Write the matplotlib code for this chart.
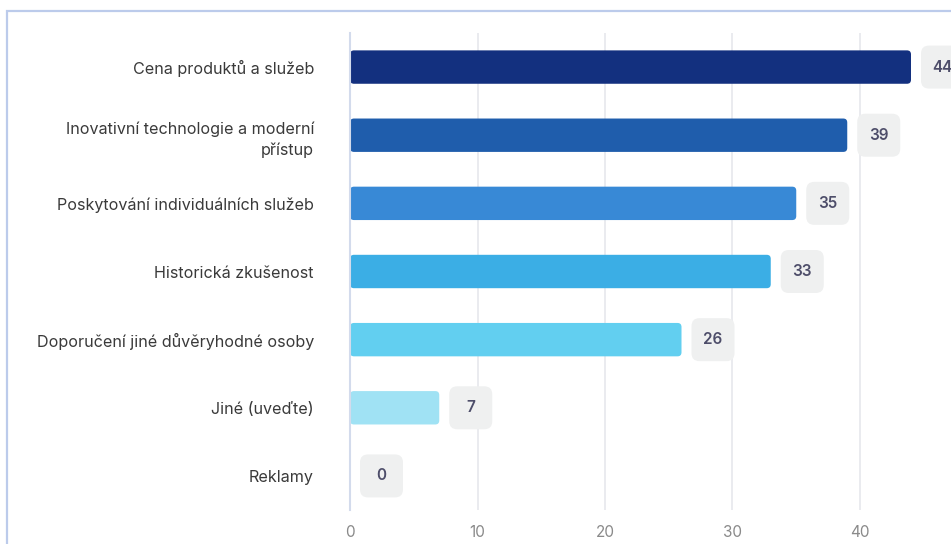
import matplotlib
matplotlib.use("Agg")
import matplotlib.pyplot as plt
from matplotlib.patches import FancyBboxPatch, Rectangle
from matplotlib.offsetbox import DrawingArea, AnnotationBbox
from matplotlib.text import Text

plt.rcParams['font.family'] = ['Inter', 'DejaVu Sans']

categories = [
    "Cena produktů a služeb",
    "Inovativní technologie a moderní\npřístup",
    "Poskytování individuálních služeb",
    "Historická zkušenost",
    "Doporučení jiné důvěryhodné osoby",
    "Jiné (uveďte)",
    "Reklamy",
]
values = [44, 39, 35, 33, 26, 7, 0]
colors = ["#13307f", "#1f5dac", "#3889d6", "#3baee5", "#62cff0", "#a0e2f4", "#c8eef8"]
xticks = [0, 10, 20, 30, 40]

fig = plt.figure(figsize=(9.51, 5.44), dpi=100)
W, H = 951, 544

# outer border
fig.patches.append(Rectangle((7 / W, -0.1), 1.2, (H - 11) / H + 0.1, transform=fig.transFigure,
                             fill=False, ec="#bccbeb", lw=1.6, zorder=0))

ax = fig.add_axes([350 / W, 34 / H, 612 / W, 477 / H])
ax.set_xlim(0, 48)
ax.set_ylim(len(categories) - 0.5, -0.5)

ypos = list(range(len(categories)))
bars = ax.barh(ypos, values, height=0.49, color=colors, zorder=3)

# replace with rounded bars
px_x = 612 / 48
px_y = 477 / 7
r = 4 / px_x
aspect = (4 / px_y) / r
for b in bars:
    w = b.get_width()
    if w <= 0:
        b.set_visible(False)
        continue
    fb = FancyBboxPatch((b.get_x(), b.get_y()), w, b.get_height(),
                        boxstyle=f"round,pad=0,rounding_size={r}",
                        mutation_aspect=aspect, fc=b.get_facecolor(), ec="none", zorder=3)
    ax.add_patch(fb)
    b.set_visible(False)

# value labels in rounded boxes
pt = 72 / 100
bw, bh = 43 * pt, 43 * pt
for i, v in enumerate(values):
    da = DrawingArea(bw, bh, 0, 0)
    da.add_artist(FancyBboxPatch((0, 0), bw, bh, boxstyle=f"round,pad=0,rounding_size={8*pt}",
                                 fc="#eff0f0", ec="none"))
    da.add_artist(Text(bw / 2, bh / 2, str(v), ha="center", va="center",
                       fontsize=11, fontweight="semibold", color="#4e4e6a",
                       family=['Inter', 'DejaVu Sans']))
    ab = AnnotationBbox(da, (v, i), xybox=(10 * pt, 0), xycoords="data",
                        boxcoords="offset points", frameon=False, box_alignment=(0, 0.5),
                        pad=0, annotation_clip=False)
    ab.set_zorder(4)
    ax.add_artist(ab)

ax.set_yticks(ypos)
ax.set_yticklabels(categories, fontsize=11.6, color="#3a3a3a", ha="right",
                   multialignment="right", linespacing=1.45)
ax.tick_params(axis="y", length=0, pad=26)
ax.set_xticks(xticks)
ax.set_xticklabels([str(t) for t in xticks], fontsize=11, color="#8a8a8a")
ax.tick_params(axis="x", length=0, pad=11)

ax.grid(axis="x", color="#e6e8ec", lw=1.2, zorder=0)
for s in ["top", "right", "bottom"]:
    ax.spines[s].set_visible(False)
ax.spines["left"].set_color("#d3dbec")
ax.spines["left"].set_linewidth(1.5)
ax.spines["left"].set_zorder(5)

fig.savefig("out.png", dpi=100)
